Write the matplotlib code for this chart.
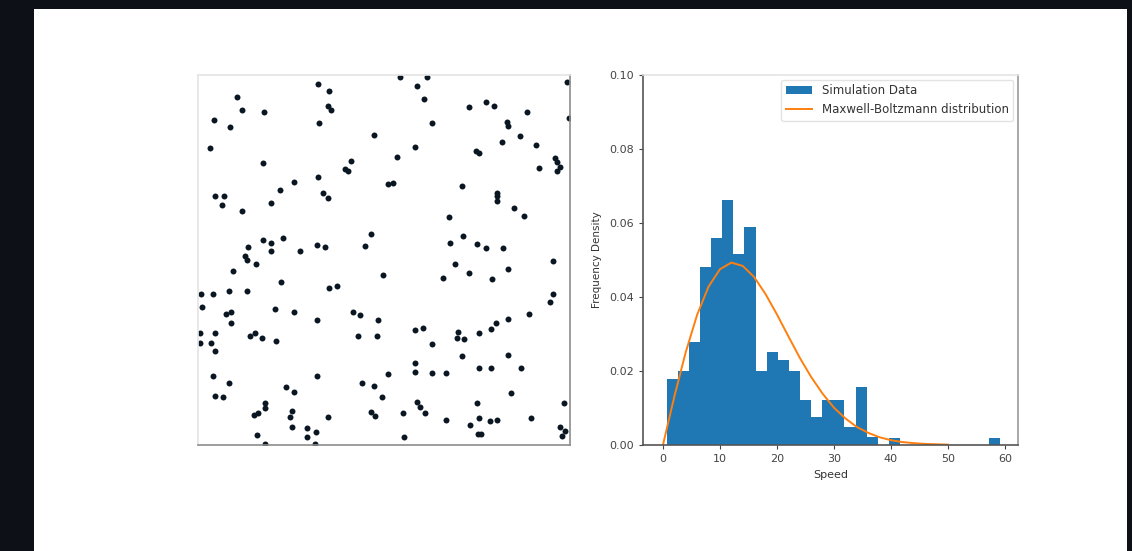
"""Particle box snapshot next to the speed histogram with the Maxwell-Boltzmann fit."""

import matplotlib
matplotlib.use("Agg")
import matplotlib.pyplot as plt
from matplotlib.patches import Rectangle


# particle positions in the box (0..100 on both axes)
pos_x = [
    10.4, 11.7, 4.4, 8.6, 17.7, 3.2, 17.4, 32.3, 35.2, 35.0, 35.7, 32.5, 54.3, 61.6, 58.8,
    60.8, 63.0, 47.4, 58.3, 53.4, 41.1, 39.5, 40.4, 32.3, 25.8, 22.0, 51.0, 52.5, 70.9, 72.8,
    77.3, 79.6, 83.0, 83.2, 88.4, 81.8, 86.6, 90.8, 74.7, 75.5, 91.7, 96.0, 96.4, 97.3, 96.6,
    99.1, 99.8, 4.6, 7.0, 33.5, 34.9, 80.3, 80.5,
    6.4, 11.7, 19.6, 80.3, 85.0, 87.7, 67.5, 46.4, 44.9, 71.3, 67.7, 75.1, 77.4, 82.1, 17.6,
    19.6, 19.6, 22.9, 13.5, 12.5, 13.1, 15.6, 27.4, 32.1, 34.1, 9.5, 22.3, 49.6, 69.1, 72.8,
    65.9, 78.9, 83.2, 95.3, 35.3, 37.3, 0.8, 4.1, 8.4, 13.3, 1.2, 7.5, 8.8, 20.7, 25.9, 41.6,
    43.5, 95.5, 94.6, 89.1, 83.2, 80.1, 31.9, 48.5, 8.8,
    0.5, 4.6, 0.5, 3.5, 4.6, 14.0, 15.3, 17.1, 21.0, 43.1, 48.2, 58.2, 60.4, 63.0, 70.0, 69.7,
    71.6, 75.5, 78.8, 3.9, 8.4, 4.6, 6.6, 32.1, 23.7, 25.9, 44.0, 47.4, 51.0, 49.4, 58.3, 58.3,
    63.0, 66.6, 70.9, 83.2, 75.5, 78.8, 86.7, 18.0, 18.0, 15.1, 16.2, 25.2, 24.6, 25.2, 29.4,
    31.6, 29.4, 15.8, 18.0, 31.5, 35.0, 46.4, 47.6, 55.0, 55.5, 58.8, 59.7, 61.0, 66.8, 73.1,
    75.1, 75.5, 78.5, 80.5, 75.2, 76.0, 84.1, 89.4, 98.5, 97.3, 98.7, 97.8,
]
pos_y = [
    94.1, 90.5, 87.8, 86.0, 89.9, 80.2, 76.3, 97.7, 95.7, 91.6, 90.5, 87.1, 99.4, 99.4, 97.1,
    93.5, 86.9, 83.8, 80.6, 77.9, 76.8, 74.6, 74.1, 72.5, 71.0, 68.9, 70.5, 70.7, 70.0, 91.3,
    92.8, 91.6, 87.2, 86.2, 89.9, 82.0, 83.5, 81.1, 79.5, 79.0, 75.0, 77.5, 76.6, 75.2, 74.1,
    98.2, 88.5, 67.3, 67.3, 68.2, 66.7, 68.2, 67.3,
    65.0, 63.3, 65.3, 65.9, 64.0, 62.0, 61.5, 57.0, 53.9, 56.5, 54.7, 54.2, 53.2, 53.2, 55.4,
    54.5, 52.4, 56.0, 53.6, 51.1, 50.0, 48.8, 52.5, 54.1, 53.4, 47.0, 44.0, 45.9, 48.9, 46.6,
    45.2, 45.0, 47.5, 49.7, 42.5, 43.1, 40.7, 40.9, 41.7, 41.7, 37.4, 35.4, 35.9, 36.7, 35.9, 35.9,
    35.1, 40.8, 38.6, 35.3, 34.0, 33.1, 33.8, 33.8, 32.9,
    30.2, 30.2, 27.5, 27.5, 25.4, 29.5, 30.2, 28.8, 28.1, 29.5, 29.5, 31.1, 31.5, 27.3, 30.6, 28.8,
    28.6, 30.2, 31.3, 18.7, 16.8, 13.2, 12.9, 18.7, 15.6, 14.4, 16.7, 16.0, 19.2, 12.9, 22.1, 19.6,
    19.4, 19.4, 24.1, 24.3, 20.7, 20.7, 20.7, 11.3, 9.9, 8.1, 8.6, 9.3, 7.5, 5.0, 4.5,
    3.4, 2.1, 2.7, 0.3, 0.3, 7.7, 8.8, 7.9, 8.6, 2.1, 11.7, 10.2, 8.7, 6.8, 5.4,
    11.3, 7.2, 6.6, 6.8, 2.9, 2.9, 14.1, 7.2, 11.3, 5.0, 3.8, 2.3,
]

# histogram of particle speeds (density per bin)
bin_edges = [
    0.65, 2.6, 4.55, 6.5, 8.45, 10.4, 12.35, 14.3, 16.25, 18.2, 20.15, 22.1, 24.05, 26.0,
    27.95, 29.9, 31.85, 33.8, 35.75, 37.7, 39.65, 41.6, 43.55, 45.5, 47.45, 49.4, 51.35,
    53.3, 55.25, 57.2, 59.15,
]
bin_density = [
    0.0178, 0.0200, 0.0279, 0.0480, 0.0560, 0.0662, 0.0515, 0.0588, 0.0200, 0.0250,
    0.0230, 0.0200, 0.0122, 0.0077, 0.0122, 0.0122, 0.0048, 0.0156, 0.0022, 0.0,
    0.0020, 0.0, 0.0, 0.0, 0.0, 0.0, 0.0, 0.0, 0.0, 0.0020,
]

# theoretical curve
mb_speed = [0, 2, 4, 6, 8, 10, 12, 14, 16, 18, 20, 22, 24, 26, 28, 30, 32, 34, 36, 38, 40,
            42, 44, 46, 48, 50]
mb_density = [0.0, 0.0131, 0.0251, 0.0352, 0.0428, 0.0475, 0.0493, 0.0484, 0.0454, 0.0408,
              0.0353, 0.0294, 0.0236, 0.0184, 0.0139, 0.0101, 0.0072, 0.0049, 0.0033, 0.0021,
              0.0013, 0.0008, 0.0005, 0.0003, 0.0002, 0.0001]

y_ticks = [0.00, 0.02, 0.04, 0.06, 0.08, 0.10]
x_ticks = [0, 10, 20, 30, 40, 50, 60]

W, H = 1132, 551


def box(left, top, right, bottom):
    return [left / W, 1 - bottom / H, (right - left) / W, (bottom - top) / H]


def main():
    fig = plt.figure(figsize=(W / 100, H / 100), dpi=100, facecolor="#0d1117")
    fig.patches.append(Rectangle((34 / W, 0), (1127 - 34) / W, 1 - 9 / H,
                                 transform=fig.transFigure, facecolor="white",
                                 edgecolor="none", zorder=-10))

    # left: particles in the box
    ax1 = fig.add_axes(box(198, 75, 570, 445))
    ax1.plot(pos_x, pos_y, "o", color="#0b1623", markersize=4.3, markeredgewidth=0)
    ax1.set_xlim(0, 100)
    ax1.set_ylim(0, 100)
    ax1.set_xticks([])
    ax1.set_yticks([])
    for side, col in (("top", "#e4e4e4"), ("left", "#e4e4e4"),
                      ("right", "#8c8c8c"), ("bottom", "#8c8c8c")):
        ax1.spines[side].set_color(col)
        ax1.spines[side].set_linewidth(1.2)

    # right: speed distribution
    ax2 = fig.add_axes(box(643, 75, 1018, 445))
    ax2.hist(bin_edges[:-1], bins=bin_edges, weights=bin_density, color="#1f77b4",
             label="Simulation Data")
    ax2.plot(mb_speed, mb_density, color="#ff7f0e", linewidth=1.4,
             label="Maxwell-Boltzmann distribution")
    ax2.set_xlim(-3.5, 62.3)
    ax2.set_ylim(0, 0.10)
    ax2.set_xticks(x_ticks)
    ax2.set_yticks(y_ticks)
    ax2.set_yticklabels([f"{t:.2f}" for t in y_ticks])
    ax2.tick_params(labelsize=8, colors="#444444", length=3, width=0.8)
    ax2.set_xlabel("Speed", fontsize=8, color="#333333", labelpad=4)
    ax2.set_ylabel("Frequency Density", fontsize=7.5, color="#333333", labelpad=5)
    for side, col in (("top", "#e4e4e4"), ("left", "#555555"),
                      ("right", "#999999"), ("bottom", "#555555")):
        ax2.spines[side].set_color(col)
        ax2.spines[side].set_linewidth(1.2)
    leg = ax2.legend(loc="upper right", fontsize=8.5, frameon=True, borderaxespad=0.4,
                     handlelength=2.2)
    leg.get_frame().set_edgecolor("#dddddd")
    for t in leg.get_texts():
        t.set_color("#333333")

    fig.savefig("out.png", dpi=100, facecolor=fig.get_facecolor())
    plt.close(fig)


if __name__ == "__main__":
    main()
